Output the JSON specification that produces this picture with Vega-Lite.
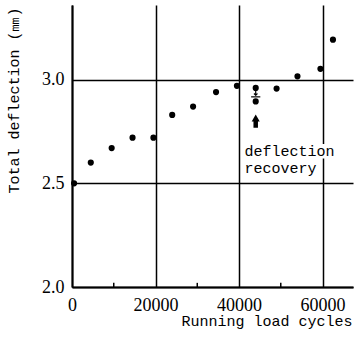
{
  "$schema": "https://vega.github.io/schema/vega-lite/v6.json",
  "width": 281,
  "height": 282,
  "autosize": {"type": "none"},
  "padding": {"left": 72, "top": 5, "right": 3, "bottom": 52},
  "background": "white",
  "config": {"view": {"stroke": null}},
  "datasets": {
    "points": [
      {"cycles": 500, "deflection": 2.50},
      {"cycles": 4500, "deflection": 2.60},
      {"cycles": 9500, "deflection": 2.67},
      {"cycles": 14500, "deflection": 2.72},
      {"cycles": 19500, "deflection": 2.72},
      {"cycles": 24000, "deflection": 2.83},
      {"cycles": 29000, "deflection": 2.87},
      {"cycles": 34500, "deflection": 2.94},
      {"cycles": 39500, "deflection": 2.97},
      {"cycles": 44000, "deflection": 2.96},
      {"cycles": 44000, "deflection": 2.895},
      {"cycles": 49000, "deflection": 2.957},
      {"cycles": 54000, "deflection": 3.016},
      {"cycles": 59500, "deflection": 3.052},
      {"cycles": 62500, "deflection": 3.193}
    ],
    "minor": [
      {"cycles": 10000, "y0": 2.0, "y1": 2.02},
      {"cycles": 30000, "y0": 2.0, "y1": 2.02},
      {"cycles": 50000, "y0": 2.0, "y1": 2.02}
    ],
    "labelBg": [{"c0": 41300, "c1": 63500, "y0": 2.62, "y1": 2.69}],
    "labels": [
      {"cycles": 41300, "deflection": 2.655, "label": "deflection"},
      {"cycles": 41300, "deflection": 2.573, "label": "recovery"}
    ],
    "arrowBar": [{"cycles": 44000, "y0": 2.768, "y1": 2.805}],
    "arrowHead": [{"cycles": 44000, "deflection": 2.815}],
    "smallStem": [{"cycles": 44000, "y0": 2.945, "y1": 2.925}],
    "smallHead": [{"cycles": 44000, "deflection": 2.925}],
    "smallBar": [{"c0": 42900, "c1": 45100, "deflection": 2.917}]
  },
  "layer": [
    {
      "data": {"name": "points"},
      "mark": {"type": "point", "filled": true, "color": "black", "opacity": 1, "size": 38},
      "encoding": {
        "x": {
          "field": "cycles", "type": "quantitative",
          "scale": {"domain": [0, 67300], "nice": false},
          "axis": {
            "values": [0, 20000, 40000, 60000],
            "format": "d",
            "grid": true, "gridColor": "black", "gridWidth": 1.5, "gridOpacity": 1,
            "domainColor": "black", "domainWidth": 2,
            "ticks": false, "labelPadding": 9,
            "labelFont": "Liberation Serif", "labelFontSize": 18, "labelColor": "black",
            "labelFlush": false,
            "title": "Running load cycles",
            "titleFont": "Liberation Mono", "titleFontSize": 15, "titleFontWeight": "normal", "titleColor": "black",
            "titleX": 280, "titleY": 38, "titleAlign": "right", "titleBaseline": "alphabetic", "titleAnchor": null
          }
        },
        "y": {
          "field": "deflection", "type": "quantitative",
          "scale": {"domain": [2.0, 3.36], "nice": false},
          "axis": {
            "values": [2.0, 2.5, 3.0],
            "format": ".1f",
            "grid": true, "gridColor": "black", "gridWidth": 1.5, "gridOpacity": 1,
            "domainColor": "black", "domainWidth": 2,
            "ticks": false, "labelPadding": 8,
            "labelFont": "Liberation Serif", "labelFontSize": 18, "labelColor": "black",
            "labelFlush": false,
            "title": "Total deflection (㎜)",
            "titleFont": "Liberation Mono", "titleFontSize": 15, "titleFontWeight": "normal", "titleColor": "black",
            "titleAngle": -90, "titleX": -59, "titleY": 2, "titleAlign": "right", "titleBaseline": "middle", "titleAnchor": null
          }
        }
      }
    },
    {
      "data": {"name": "minor"},
      "mark": {"type": "rule", "color": "black", "strokeWidth": 1.5},
      "encoding": {
        "x": {"field": "cycles", "type": "quantitative"},
        "y": {"field": "y0", "type": "quantitative"},
        "y2": {"field": "y1"}
      }
    },
    {
      "data": {"name": "labelBg"},
      "mark": {"type": "rect", "color": "white", "opacity": 1},
      "encoding": {
        "x": {"field": "c0", "type": "quantitative"},
        "x2": {"field": "c1"},
        "y": {"field": "y0", "type": "quantitative"},
        "y2": {"field": "y1"}
      }
    },
    {
      "data": {"name": "labels"},
      "mark": {"type": "text", "font": "Liberation Mono", "fontSize": 15, "align": "left", "baseline": "middle", "color": "black"},
      "encoding": {
        "x": {"field": "cycles", "type": "quantitative"},
        "y": {"field": "deflection", "type": "quantitative"},
        "text": {"field": "label"}
      }
    },
    {
      "data": {"name": "arrowBar"},
      "mark": {"type": "rule", "color": "black", "strokeWidth": 4.5},
      "encoding": {
        "x": {"field": "cycles", "type": "quantitative"},
        "y": {"field": "y0", "type": "quantitative"},
        "y2": {"field": "y1"}
      }
    },
    {
      "data": {"name": "arrowHead"},
      "mark": {"type": "point", "shape": "triangle-up", "filled": true, "color": "black", "opacity": 1, "size": 65},
      "encoding": {
        "x": {"field": "cycles", "type": "quantitative"},
        "y": {"field": "deflection", "type": "quantitative"}
      }
    },
    {
      "data": {"name": "smallStem"},
      "mark": {"type": "rule", "color": "black", "strokeWidth": 1.2},
      "encoding": {
        "x": {"field": "cycles", "type": "quantitative"},
        "y": {"field": "y0", "type": "quantitative"},
        "y2": {"field": "y1"}
      }
    },
    {
      "data": {"name": "smallHead"},
      "mark": {"type": "point", "shape": "M-1,-1L0,0L1,-1", "filled": false, "color": "black", "opacity": 1, "strokeWidth": 1.2, "size": 12},
      "encoding": {
        "x": {"field": "cycles", "type": "quantitative"},
        "y": {"field": "deflection", "type": "quantitative"}
      }
    },
    {
      "data": {"name": "smallBar"},
      "mark": {"type": "rule", "color": "black", "strokeWidth": 1.2},
      "encoding": {
        "x": {"field": "c0", "type": "quantitative"},
        "x2": {"field": "c1"},
        "y": {"field": "deflection", "type": "quantitative"}
      }
    }
  ]
}
